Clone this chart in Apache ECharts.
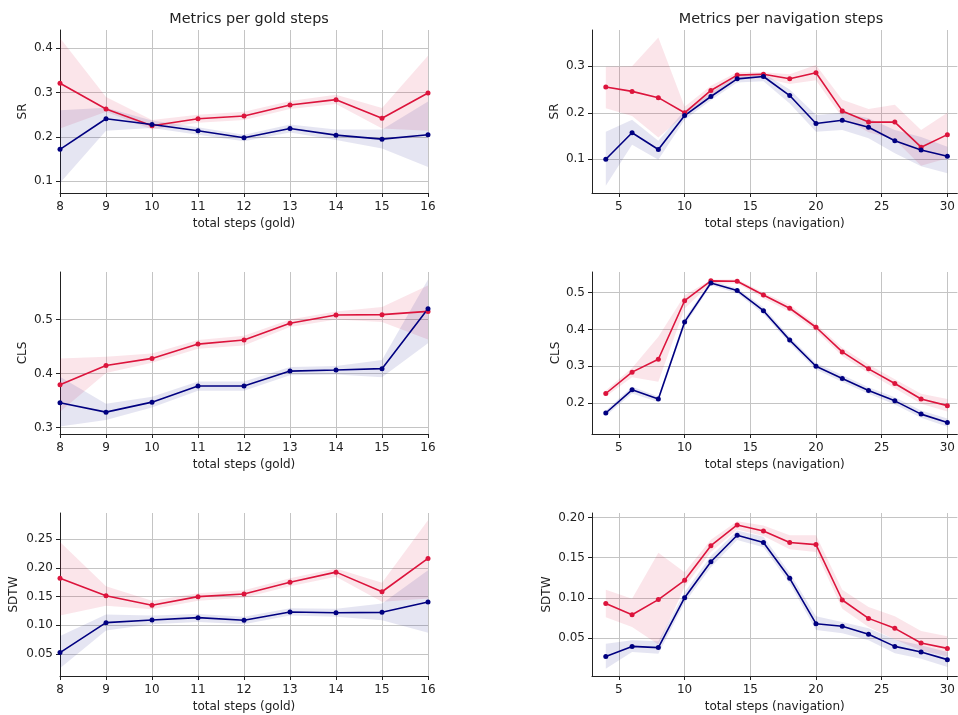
<!DOCTYPE html>
<html><head><meta charset="utf-8">
<script src="https://cdn.jsdelivr.net/npm/echarts@6/dist/echarts.min.js"></script>
<style>html,body{margin:0;padding:0;background:#fff}#c{width:958px;height:715px}</style>
</head><body><div id="c"></div>
<script>
// ---------- data ----------
const goldSteps = [8, 9, 10, 11, 12, 13, 14, 15, 16];
const navSteps = [4, 6, 8, 10, 12, 14, 16, 18, 20, 22, 24, 26, 28, 30];

const goldTicks = [8, 9, 10, 11, 12, 13, 14, 15, 16];
const navTicks = [5, 10, 15, 20, 25, 30];
const srGoldTicks = [0.1, 0.2, 0.3, 0.4];
const srNavTicks = [0.1, 0.2, 0.3];
const clsGoldTicks = [0.3, 0.4, 0.5];
const clsNavTicks = [0.2, 0.3, 0.4, 0.5];
const sdtwGoldTicks = [0.05, 0.10, 0.15, 0.20, 0.25];
const sdtwNavTicks = [0.05, 0.10, 0.15, 0.20];

// SR vs gold steps
const srGoldA   = [0.321, 0.263, 0.225, 0.241, 0.247, 0.272, 0.284, 0.242, 0.299];
const srGoldALo = [0.219, 0.257, 0.217, 0.232, 0.238, 0.263, 0.274, 0.219, 0.214];
const srGoldAHi = [0.423, 0.290, 0.238, 0.250, 0.257, 0.281, 0.295, 0.265, 0.383];
const srGoldB   = [0.172, 0.241, 0.228, 0.214, 0.198, 0.219, 0.204, 0.195, 0.205];
const srGoldBLo = [0.096, 0.214, 0.220, 0.205, 0.190, 0.210, 0.193, 0.174, 0.132];
const srGoldBHi = [0.260, 0.266, 0.237, 0.222, 0.205, 0.228, 0.217, 0.217, 0.280];

// SR vs navigation steps
const srNavA   = [0.2555, 0.246, 0.2325, 0.200, 0.248, 0.281, 0.283, 0.273, 0.286, 0.204, 0.180, 0.180, 0.126, 0.153];
const srNavALo = [0.210, 0.193, 0.147, 0.195, 0.238, 0.272, 0.275, 0.262, 0.270, 0.190, 0.158, 0.142, 0.086, 0.102];
const srNavAHi = [0.299, 0.300, 0.362, 0.213, 0.258, 0.287, 0.287, 0.283, 0.303, 0.228, 0.208, 0.217, 0.163, 0.200];
const srNavB   = [0.100, 0.157, 0.121, 0.194, 0.235, 0.273, 0.278, 0.237, 0.177, 0.184, 0.169, 0.140, 0.120, 0.1065];
const srNavBLo = [0.043, 0.131, 0.099, 0.185, 0.227, 0.265, 0.268, 0.220, 0.159, 0.163, 0.145, 0.113, 0.085, 0.070];
const srNavBHi = [0.159, 0.185, 0.140, 0.205, 0.243, 0.282, 0.285, 0.250, 0.195, 0.200, 0.188, 0.163, 0.148, 0.127];

// CLS vs gold steps
const clsGoldA   = [0.379, 0.415, 0.428, 0.4545, 0.462, 0.493, 0.5085, 0.509, 0.515];
const clsGoldALo = [0.329, 0.401, 0.420, 0.446, 0.452, 0.486, 0.500, 0.4955, 0.463];
const clsGoldAHi = [0.428, 0.431, 0.437, 0.462, 0.470, 0.500, 0.515, 0.523, 0.563];
const clsGoldB   = [0.346, 0.3285, 0.347, 0.377, 0.377, 0.4045, 0.4065, 0.409, 0.520];
const clsGoldBLo = [0.302, 0.314, 0.337, 0.368, 0.368, 0.397, 0.398, 0.393, 0.456];
const clsGoldBHi = [0.394, 0.344, 0.357, 0.385, 0.385, 0.412, 0.414, 0.425, 0.574];

// CLS vs navigation steps
const clsNavA   = [0.226, 0.284, 0.319, 0.478, 0.532, 0.531, 0.4935, 0.4575, 0.406, 0.339, 0.293, 0.253, 0.211, 0.193];
const clsNavALo = [0.218, 0.270, 0.258, 0.457, 0.525, 0.525, 0.485, 0.448, 0.396, 0.328, 0.282, 0.240, 0.198, 0.177];
const clsNavAHi = [0.234, 0.295, 0.380, 0.493, 0.535, 0.536, 0.500, 0.467, 0.415, 0.350, 0.305, 0.265, 0.225, 0.211];
const clsNavB   = [0.173, 0.236, 0.211, 0.4205, 0.526, 0.5055, 0.451, 0.371, 0.300, 0.2665, 0.234, 0.206, 0.170, 0.1475];
const clsNavBLo = [0.165, 0.226, 0.203, 0.410, 0.520, 0.498, 0.442, 0.362, 0.291, 0.257, 0.225, 0.196, 0.160, 0.136];
const clsNavBHi = [0.180, 0.244, 0.218, 0.430, 0.532, 0.512, 0.460, 0.380, 0.309, 0.276, 0.243, 0.216, 0.180, 0.158];

// SDTW vs gold steps
const sdtwGoldA   = [0.182, 0.1516, 0.135, 0.150, 0.1545, 0.175, 0.1927, 0.1585, 0.2165];
const sdtwGoldALo = [0.117, 0.134, 0.128, 0.143, 0.148, 0.168, 0.1845, 0.141, 0.147];
const sdtwGoldAHi = [0.2453, 0.168, 0.143, 0.156, 0.161, 0.182, 0.199, 0.174, 0.283];
const sdtwGoldB   = [0.0526, 0.1047, 0.1094, 0.1134, 0.109, 0.1233, 0.122, 0.1227, 0.1406];
const sdtwGoldBLo = [0.0255, 0.091, 0.102, 0.106, 0.102, 0.117, 0.115, 0.109, 0.087];
const sdtwGoldBHi = [0.0816, 0.119, 0.117, 0.120, 0.115, 0.130, 0.129, 0.138, 0.196];

// SDTW vs navigation steps
const sdtwNavA   = [0.0928, 0.079, 0.0978, 0.1218, 0.165, 0.1908, 0.1833, 0.169, 0.1663, 0.0973, 0.0744, 0.062, 0.0437, 0.037];
const sdtwNavALo = [0.0757, 0.0636, 0.042, 0.1135, 0.157, 0.185, 0.177, 0.1605, 0.157, 0.0865, 0.0636, 0.048, 0.0345, 0.027];
const sdtwNavAHi = [0.1102, 0.099, 0.1563, 0.132, 0.1725, 0.1954, 0.190, 0.178, 0.178, 0.110, 0.0885, 0.077, 0.0586, 0.052];
const sdtwNavB   = [0.027, 0.0395, 0.038, 0.1002, 0.145, 0.178, 0.169, 0.1243, 0.0678, 0.0645, 0.0545, 0.0395, 0.0324, 0.023];
const sdtwNavBLo = [0.0117, 0.0324, 0.0304, 0.094, 0.138, 0.172, 0.163, 0.118, 0.060, 0.056, 0.047, 0.031, 0.024, 0.0137];
const sdtwNavBHi = [0.0429, 0.047, 0.046, 0.107, 0.152, 0.184, 0.176, 0.131, 0.077, 0.070, 0.062, 0.048, 0.041, 0.0324];

const titles = ['Metrics per gold steps', 'Metrics per navigation steps'];
const xNames = ['total steps (gold)', 'total steps (navigation)'];

// ---------- chart ----------
const FONT = 'DejaVu Sans';
const CRIMSON = '#dc143c', NAVY = '#000080';
const TXT = '#222';

const panels = [
  {x: goldSteps, a: srGoldA, aLo: srGoldALo, aHi: srGoldAHi, b: srGoldB, bLo: srGoldBLo, bHi: srGoldBHi,
   yName: 'SR', xName: xNames[0], xTicks: goldTicks, yTicks: srGoldTicks, xMin: 8, xMax: 16, yMin: 0.0736, yMax: 0.441, dec: 1,
   box: {left: 60, width: 368, top: 30, height: 163}, yGap: 31},
  {x: navSteps, a: srNavA, aLo: srNavALo, aHi: srNavAHi, b: srNavB, bLo: srNavBLo, bHi: srNavBHi,
   yName: 'SR', xName: xNames[1], xTicks: navTicks, yTicks: srNavTicks, xMin: 2.95, xMax: 30.76, yMin: 0.0275, yMax: 0.378, dec: 1,
   box: {left: 592, width: 366, top: 30, height: 163}, yGap: 31},
  {x: goldSteps, a: clsGoldA, aLo: clsGoldALo, aHi: clsGoldAHi, b: clsGoldB, bLo: clsGoldBLo, bHi: clsGoldBHi,
   yName: 'CLS', xName: xNames[0], xTicks: goldTicks, yTicks: clsGoldTicks, xMin: 8, xMax: 16, yMin: 0.288, yMax: 0.588, dec: 1,
   box: {left: 60, width: 368, top: 272, height: 162}, yGap: 31},
  {x: navSteps, a: clsNavA, aLo: clsNavALo, aHi: clsNavAHi, b: clsNavB, bLo: clsNavBLo, bHi: clsNavBHi,
   yName: 'CLS', xName: xNames[1], xTicks: navTicks, yTicks: clsNavTicks, xMin: 2.95, xMax: 30.76, yMin: 0.116, yMax: 0.556, dec: 1,
   box: {left: 592, width: 366, top: 272, height: 162}, yGap: 30},
  {x: goldSteps, a: sdtwGoldA, aLo: sdtwGoldALo, aHi: sdtwGoldAHi, b: sdtwGoldB, bLo: sdtwGoldBLo, bHi: sdtwGoldBHi,
   yName: 'SDTW', xName: xNames[0], xTicks: goldTicks, yTicks: sdtwGoldTicks, xMin: 8, xMax: 16, yMin: 0.0118, yMax: 0.2957, dec: 2,
   box: {left: 60, width: 368, top: 513, height: 163}, yGap: 40},
  {x: navSteps, a: sdtwNavA, aLo: sdtwNavALo, aHi: sdtwNavAHi, b: sdtwNavB, bLo: sdtwNavBLo, bHi: sdtwNavBHi,
   yName: 'SDTW', xName: xNames[1], xTicks: navTicks, yTicks: sdtwNavTicks, xMin: 2.95, xMax: 30.76, yMin: 0.0026, yMax: 0.2057, dec: 2,
   box: {left: 592, width: 366, top: 513, height: 163}, yGap: 39}
];

const zip = (xs, ys) => xs.map((v, i) => [v, ys[i]]);
const bandData = (xs, lo, hi) => xs.map((v, i) => [v, lo[i], hi[i]]);

const grids = [], xAxes = [], yAxes = [], series = [];
const axisLineStyle = {color: TXT, width: 1};
const splitStyle = {color: '#c4c4c4', width: 1};
const labelStyle = {color: TXT, fontFamily: FONT, fontSize: 12};

panels.forEach((p, i) => {
  grids.push(Object.assign({containLabel: false}, p.box));
  xAxes.push({
    gridIndex: i, type: 'value', min: p.xMin, max: p.xMax,
    axisLine: {show: true, onZero: false, lineStyle: axisLineStyle},
    axisTick: {show: true, length: 4, customValues: p.xTicks, lineStyle: axisLineStyle},
    axisLabel: Object.assign({customValues: p.xTicks, margin: 8}, labelStyle),
    splitLine: {show: true, lineStyle: splitStyle},
    name: p.xName, nameLocation: 'middle', nameGap: 25,
    nameTextStyle: labelStyle
  });
  yAxes.push({
    gridIndex: i, type: 'value', min: p.yMin, max: p.yMax,
    axisLine: {show: true, onZero: false, lineStyle: axisLineStyle},
    axisTick: {show: true, length: 4, customValues: p.yTicks, lineStyle: axisLineStyle},
    axisLabel: Object.assign({customValues: p.yTicks, margin: 7, formatter: v => v.toFixed(p.dec)}, labelStyle),
    splitLine: {show: true, lineStyle: splitStyle},
    name: p.yName, nameLocation: 'middle', nameGap: p.yGap, nameRotate: 90,
    nameTextStyle: labelStyle
  });
  const band = (lo, hi, color) => {
    const rows = bandData(p.x, lo, hi);
    series.push({
      type: 'custom', xAxisIndex: i, yAxisIndex: i, data: rows, silent: true, z: 1,
      encode: {x: 0, y: [1, 2]},
      renderItem: (params, api) => {
        if (params.dataIndex !== 0) return null;
        const top = rows.map(r => api.coord([r[0], r[2]]));
        const bottom = rows.slice().reverse().map(r => api.coord([r[0], r[1]]));
        return {
          type: 'polygon',
          shape: {points: top.concat(bottom)},
          style: {fill: color, stroke: null}
        };
      }
    });
  };
  band(p.aLo, p.aHi, 'rgba(220,20,60,0.11)');
  band(p.bLo, p.bHi, 'rgba(0,0,128,0.10)');
  [[p.a, CRIMSON], [p.b, NAVY]].forEach(([vals, color]) => {
    series.push({
      type: 'line', xAxisIndex: i, yAxisIndex: i, data: zip(p.x, vals),
      symbol: 'circle', symbolSize: 5, showSymbol: true,
      itemStyle: {color: color}, lineStyle: {color: color, width: 1.6}, z: 3
    });
  });
});

const option = {
  backgroundColor: '#fff',
  animation: false,
  title: [
    {text: titles[0], left: 244, top: 7, textAlign: 'center', textStyle: {fontFamily: FONT, fontSize: 14.4, fontWeight: 'normal', color: TXT}},
    {text: titles[1], left: 776, top: 7, textAlign: 'center', textStyle: {fontFamily: FONT, fontSize: 14.4, fontWeight: 'normal', color: TXT}}
  ],
  grid: grids, xAxis: xAxes, yAxis: yAxes, series: series
};
const chart = echarts.init(document.getElementById('c'), null, {renderer: 'canvas'});
chart.setOption(option);
</script>
</body></html>
